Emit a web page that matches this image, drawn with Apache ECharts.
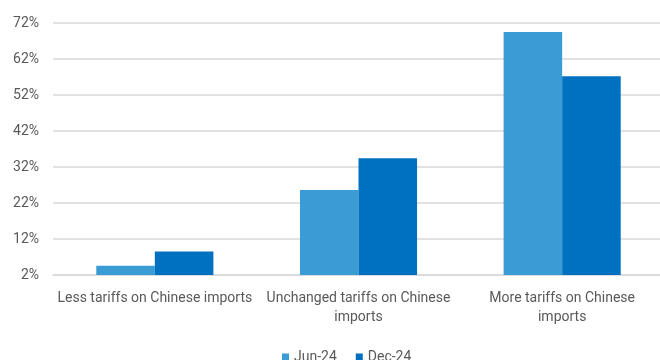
<!DOCTYPE html>
<html>
<head>
<meta charset="utf-8">
<script src="https://cdn.jsdelivr.net/npm/echarts@6/dist/echarts.min.js"></script>
<style>
html,body{margin:0;padding:0;background:#fff;overflow:hidden;}
#chart{width:664px;height:360px;}
</style>
</head>
<body>
<div id="chart"></div>
<script>
// 类目与数据
var categories = ['Less tariffs on Chinese imports', 'Unchanged tariffs on Chinese\nimports', 'More tariffs on Chinese\nimports'];
var jun24 = [4.6, 25.6, 69.5];
var dec24 = [8.5, 34.4, 57.2];
var yTicks = [2, 12, 22, 32, 42, 52, 62, 72];

var chart = echarts.init(document.getElementById('chart'));
var option = {
    color: ['#3A9BD5', '#0070C0'],
    textStyle: { fontFamily: 'Roboto', color: '#595959' },
    grid: { left: 53, right: 0, top: 23, bottom: 85 },
    legend: {
        bottom: -9,
        left: 277,
        itemWidth: 7,
        itemHeight: 7,
        itemGap: 19,
        icon: 'rect',
        textStyle: { fontSize: 14, color: '#595959', fontFamily: 'Roboto' },
        data: ['Jun-24', 'Dec-24']
    },
    xAxis: {
        type: 'category',
        data: categories,
        axisTick: { show: false },
        axisLine: { lineStyle: { color: '#d9d9d9', width: 1.5 } },
        axisLabel: { fontSize: 14, color: '#595959', margin: 14, lineHeight: 19, interval: 0 }
    },
    yAxis: {
        type: 'value',
        min: yTicks[0],
        max: yTicks[yTicks.length - 1],
        interval: 10,
        axisLine: { show: false },
        axisTick: { show: false },
        axisLabel: { fontSize: 14, color: '#595959', margin: 14, formatter: '{value}%' },
        splitLine: { lineStyle: { color: '#d9d9d9', width: 1.5 } }
    },
    series: [
        { name: 'Jun-24', type: 'bar', data: jun24, barGap: '0%', barCategoryGap: '42.5%' },
        { name: 'Dec-24', type: 'bar', data: dec24 }
    ]
};
chart.setOption(option);
</script>
</body>
</html>
